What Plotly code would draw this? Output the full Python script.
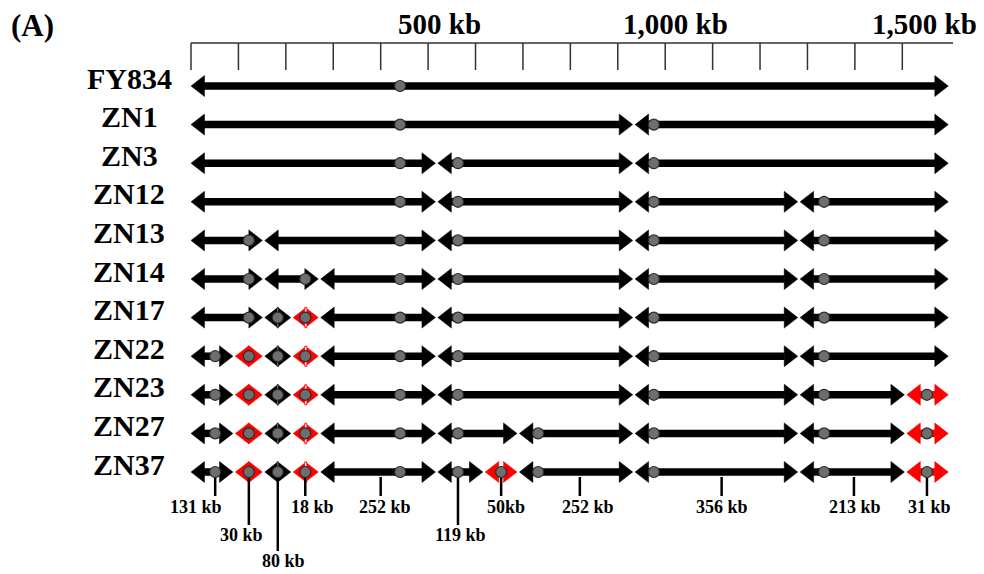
import plotly.graph_objects as go

# ---------------- data ----------------
strains = ["FY834", "ZN1", "ZN3", "ZN12", "ZN13", "ZN14", "ZN17",
           "ZN22", "ZN23", "ZN27", "ZN37"]

# segment boundaries along the chromosome (kb)
breaks = [
    [0, 1597],
    [0, 934, 1597],
    [0, 518, 934, 1597],
    [0, 518, 934, 1282, 1597],
    [0, 153, 518, 934, 1282, 1597],
    [0, 153, 271, 518, 934, 1282, 1597],
    [0, 153, 213, 271, 518, 934, 1282, 1597],
    [0, 91, 153, 213, 271, 518, 934, 1282, 1597],
    [0, 91, 153, 213, 271, 518, 934, 1282, 1507, 1597],
    [0, 91, 153, 213, 271, 518, 690, 934, 1282, 1507, 1597],
    [0, 91, 153, 213, 271, 518, 618, 690, 934, 1282, 1507, 1597],
]

# marker (dot) position inside each segment (kb)
dots = [
    [441],
    [441, 976],
    [441, 563, 976],
    [441, 563, 976, 1335],
    [122, 441, 563, 976, 1335],
    [122, 241, 441, 563, 976, 1335],
    [122, 183, 241, 441, 563, 976, 1335],
    [51, 122, 183, 241, 441, 563, 976, 1335],
    [51, 122, 183, 241, 441, 563, 976, 1335, 1552],
    [51, 122, 183, 241, 441, 563, 732, 976, 1335, 1552],
    [51, 122, 183, 241, 441, 563, 654, 732, 976, 1335, 1552],
]

# indices of segments drawn in red
red_segments = [[], [], [], [], [], [], [2], [1, 3], [1, 3, 8], [1, 3, 9], [1, 3, 6, 10]]

# ruler
ruler_ticks = [0, 100, 200, 300, 400, 500, 600, 700, 800, 900,
               1000, 1100, 1200, 1300, 1400, 1500]
ruler_end = 1607
ruler_labels = ["500 kb", "1,000 kb", "1,500 kb"]
ruler_label_pos = [500, 1000, 1500]

# segment sizes noted under the last strain
size_labels = ["131 kb", "30 kb", "80 kb", "18 kb", "252 kb", "119 kb",
               "50kb", "252 kb", "356 kb", "213 kb", "31 kb"]
size_pos = [51, 122, 183, 241, 400, 563, 654, 820, 1119, 1398, 1552]

# ---------------- layout / style ----------------
W, H = 984, 574
PAGE_OFF = 8                 # default body margin of the html page
PX_PER_KB = 0.4742
X0_PX = 191 - PAGE_OFF
ROW0_PX = 86 - PAGE_OFF
ROW_PX = 38.6

x_min = -X0_PX / PX_PER_KB
x_max = x_min + W / PX_PER_KB
y_top = -ROW0_PX / ROW_PX
y_bot = (H - ROW0_PX) / ROW_PX


def ypx(px):
    """reference-picture pixel row -> data y"""
    return (px - PAGE_OFF - ROW0_PX) / ROW_PX


def xpaper(px):
    return (px - PAGE_OFF) / W


ARROW_L = 13.5 / PX_PER_KB    # arrowhead length in kb
ARROW_H = 10.5 / ROW_PX       # arrowhead half height in rows
INSET = 1.2 / PX_PER_KB       # gap at each junction
SHAFT_W = 7.5
FONT = "Liberation Serif"
RED = "#ff0000"

size_level = [0, 1, 2, 0, 0, 1, 0, 0, 0, 0, 0]
size_from_dot = [True, True, True, True, False, True, True, False, False, False, True]
size_xshift = [-19, -7, 6, 7, 4, 3, 5, 8, 0, 1, 3]
level_line_end = [496, 525, 551]
level_text_y = [507, 535, 561]
ruler_label_xshift = [11, 10, 22]

fig = go.Figure()

shaft = {"k": ([], []), "r": ([], [])}
heads = {"k": ([], []), "r": ([], [])}
dx, dy = [], []

for i, (bk, dt, reds) in enumerate(zip(breaks, dots, red_segments)):
    for j in range(len(bk) - 1):
        s = bk[j] + (INSET if j > 0 else 0)
        e = bk[j + 1] - (INSET if j < len(bk) - 2 else 0)
        c = "r" if j in reds else "k"
        if e - s > 2 * ARROW_L:
            shaft[c][0].extend([s + ARROW_L - 1, e - ARROW_L + 1, None])
            shaft[c][1].extend([i, i, None])
        hx, hy = heads[c]
        hx.extend([s, s + ARROW_L, s + ARROW_L, s, None])
        hy.extend([i, i - ARROW_H, i + ARROW_H, i, None])
        hx.extend([e, e - ARROW_L, e - ARROW_L, e, None])
        hy.extend([i, i - ARROW_H, i + ARROW_H, i, None])
    for d in dt:
        dx.append(d)
        dy.append(i)

for c, col in (("k", "black"), ("r", RED)):
    fig.add_trace(go.Scatter(x=shaft[c][0], y=shaft[c][1], mode="lines",
                             line=dict(color=col, width=SHAFT_W),
                             hoverinfo="skip"))
for c, col in (("k", "black"), ("r", RED)):
    fig.add_trace(go.Scatter(x=heads[c][0], y=heads[c][1], mode="lines",
                             fill="toself", fillcolor=col,
                             line=dict(color=col, width=0.5),
                             hoverinfo="skip"))

# size indicator lines under the last row
last = len(strains) - 1
lx, ly = [], []
for p, lev, fd in zip(size_pos, size_level, size_from_dot):
    lx.extend([p, p, None])
    ly.extend([last if fd else ypx(477), ypx(level_line_end[lev]), None])
fig.add_trace(go.Scatter(x=lx, y=ly, mode="lines",
                         line=dict(color="black", width=2.5), hoverinfo="skip"))

fig.add_trace(go.Scatter(x=dx, y=dy, mode="markers",
                         marker=dict(size=11, color="#6e6e6e",
                                     line=dict(color="#2a2a2a", width=1.2)),
                         hoverinfo="skip"))

# ruler
rx = [0, ruler_end, None]
ry = [ypx(43), ypx(43), None]
for t in ruler_ticks:
    rx.extend([t, t, None])
    ry.extend([ypx(43), ypx(70), None])
fig.add_trace(go.Scatter(x=rx, y=ry, mode="lines",
                         line=dict(color="#333333", width=1.5), hoverinfo="skip"))

ann = []
for lab, p, xs in zip(ruler_labels, ruler_label_pos, ruler_label_xshift):
    ann.append(dict(x=p, y=ypx(24), text=lab, showarrow=False, xshift=xs,
                    xanchor="center", yanchor="middle",
                    font=dict(family=FONT, size=29, color="black")))
for i, name in enumerate(strains):
    ann.append(dict(x=xpaper(129), xref="paper", y=i, text=name, showarrow=False,
                    xanchor="center", yanchor="middle", yshift=8,
                    font=dict(family=FONT, size=30, color="black")))
for lab, p, lev, xs in zip(size_labels, size_pos, size_level, size_xshift):
    ann.append(dict(x=p, y=ypx(level_text_y[lev]), text=lab, showarrow=False,
                    xshift=xs, xanchor="center", yanchor="middle",
                    font=dict(family=FONT, size=18, color="black")))
ann.append(dict(x=xpaper(9), xref="paper", y=ypx(25), text="(A)", showarrow=False,
                xanchor="left", yanchor="middle",
                font=dict(family=FONT, size=31, color="black")))

for a in ann:
    a["font"]["weight"] = "bold"

fig.update_layout(
    width=W, height=H, margin=dict(l=0, r=0, t=0, b=0),
    paper_bgcolor="white", plot_bgcolor="white", showlegend=False,
    xaxis=dict(range=[x_min, x_max], visible=False, fixedrange=True),
    yaxis=dict(range=[y_bot, y_top], visible=False, fixedrange=True),
    annotations=ann,
)

fig.write_html("out.html")
